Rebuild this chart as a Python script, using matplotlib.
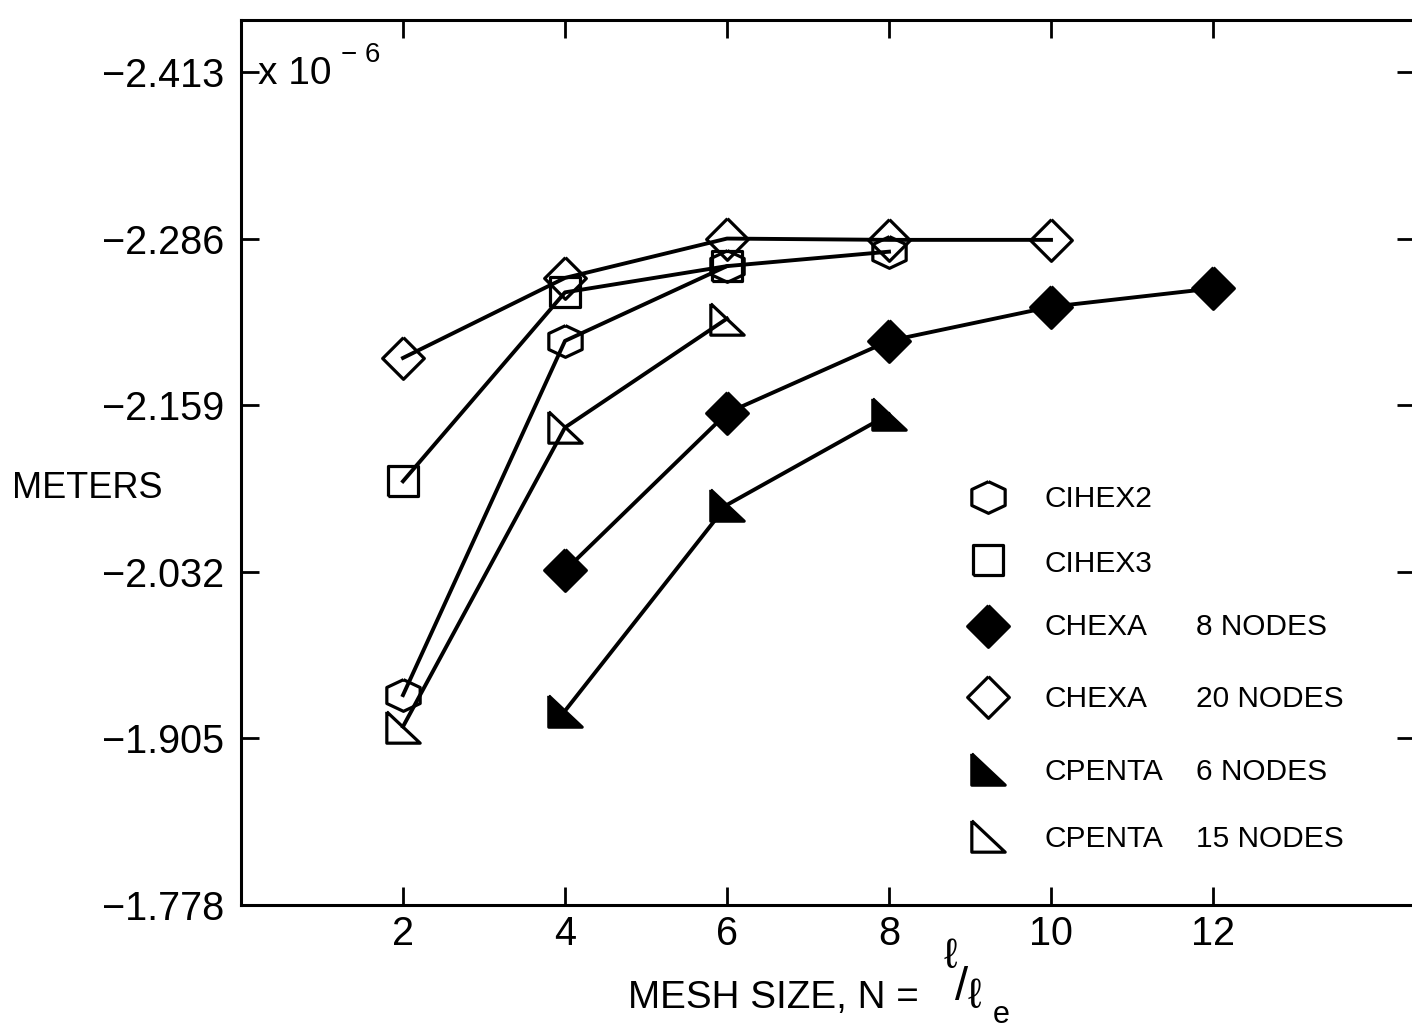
import matplotlib.pyplot as plt

plt.rcParams['font.family'] = ['Liberation Sans', 'DejaVu Sans']

# --- data (displacement in units of 1e-6 m) ---
cihex2_n = [2, 4, 6, 8]
cihex2 = [-1.938, -2.208, -2.265, -2.276]
cihex3_n = [2, 4, 6]
cihex3 = [-2.101, -2.245, -2.265]
chexa8_n = [4, 6, 8, 10, 12]
chexa8 = [-2.033, -2.153, -2.208, -2.234, -2.248]
chexa20_n = [2, 4, 6, 8, 10]
chexa20 = [-2.195, -2.256, -2.286, -2.285, -2.285]
cpenta6_n = [4, 6, 8]
cpenta6 = [-1.926, -2.083, -2.152]
cpenta15_n = [2, 4, 6]
cpenta15 = [-1.914, -2.142, -2.225]

names = ['CIHEX2', 'CIHEX3', 'CHEXA', 'CHEXA', 'CPENTA', 'CPENTA']
nodes = ['', '', '8 NODES', '20 NODES', '6 NODES', '15 NODES']
xticks = [2, 4, 6, 8, 10, 12]
yticks = [-2.413, -2.286, -2.159, -2.032, -1.905, -1.778]

# --- marker shapes ---
hexagon = [(0, 0.95), (-1, 0.48), (-1, -0.48), (0, -0.95), (1, -0.48), (1, 0.48), (0, 0.95)]
square = [(-1, -1), (1, -1), (1, 1), (-1, 1), (-1, -1)]
diamond = [(0, 1), (1, 0), (0, -1), (-1, 0), (0, 1)]
rtri = [(-1, 0.94), (-1, -0.94), (1, -0.94), (-1, 0.94)]

series = [
    (cihex2_n, cihex2, hexagon, 24, 'none'),
    (cihex3_n, cihex3, square, 22, 'none'),
    (chexa8_n, chexa8, diamond, 30, 'black'),
    (chexa20_n, chexa20, diamond, 30, 'none'),
    (cpenta6_n, cpenta6, rtri, 24, 'black'),
    (cpenta15_n, cpenta15, rtri, 24, 'none'),
]

W, H = 1412, 1031


def fx(px):
    return px / W


def fy(py):
    return 1 - py / H


fig = plt.figure(figsize=(W / 100, H / 100), dpi=100)
ax = fig.add_axes([fx(241), 126 / H, 1174.5 / W, 885 / H])

for n, v, mk, ms, fc in series:
    ax.plot(n, v, color='black', lw=2.8, marker=mk, markersize=ms,
            markerfacecolor=fc, markeredgecolor='black', markeredgewidth=2.3)

ax.set_xlim(0, 14.5)
ax.set_ylim(-1.778, -2.4526)
ax.set_xticks(xticks)
ax.set_xticklabels([str(t) for t in xticks])
ax.set_yticks(yticks)
ax.set_yticklabels(['\u2212' + f'{abs(t):.3f}' for t in yticks])

ax.tick_params(direction='in', length=13, width=2, top=True, right=True,
               labelsize=28.5, colors='black')
ax.tick_params(axis='y', pad=12)
ax.tick_params(axis='x', pad=7)
for s in ax.spines.values():
    s.set_linewidth(2.2)

# --- hand-placed legend ---
leg_py = [497, 560, 626, 697, 769, 836]
base_py = [507, 572, 635, 707, 780, 847]
for (n, v, mk, ms, fc), py, bpy, name, nd in zip(series, leg_py, base_py, names, nodes):
    ax.plot([fx(988)], [fy(py)], transform=fig.transFigure, clip_on=False,
            linestyle='none', marker=mk, markersize=ms, markerfacecolor=fc,
            markeredgecolor='black', markeredgewidth=2.3)
    fig.text(fx(1045), fy(bpy), name, fontsize=21.5, va='baseline')
    if nd:
        fig.text(fx(1196), fy(bpy), nd, fontsize=21.5, va='baseline')

# --- labels ---
fig.text(fx(12), fy(498), 'METERS', fontsize=26, va='baseline')
fig.text(fx(258), fy(84), 'x 10', fontsize=28, va='baseline')
fig.text(fx(341), fy(62), '\u2212 6', fontsize=20, va='baseline')

fig.text(fx(628), fy(1008), 'MESH SIZE, N =', fontsize=27.8, va='baseline')
fig.text(fx(944), fy(968), '\u2113', fontsize=30, va='baseline')
fig.text(fx(955), fy(1000), '/', fontsize=34, va='baseline')
fig.text(fx(968), fy(1008), '\u2113', fontsize=30, va='baseline')
fig.text(fx(993), fy(1023), 'e', fontsize=22, va='baseline')

fig.savefig('out.png', dpi=100)
